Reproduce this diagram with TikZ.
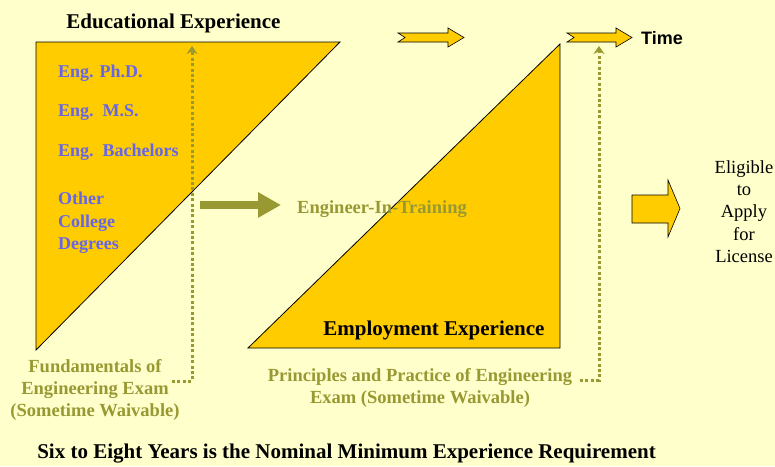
\documentclass[tikz,border=0pt]{standalone}
\usepackage{fontspec}
\setmainfont{Liberation Serif}
\newfontfamily\timefont{Liberation Sans}
\usetikzlibrary{arrows.meta}

\definecolor{paper}{RGB}{255,255,204}
\definecolor{gold}{RGB}{255,204,0}
\definecolor{olive}{RGB}{153,153,51}
\definecolor{degree}{RGB}{102,102,230}

\begin{document}
\begin{tikzpicture}[x=1pt,y=-1pt,
  phase/.style={fill=gold,draw=black,line width=0.8pt,line join=miter},
  goldarrow/.style={fill=gold,draw=black,line width=0.6pt,line join=miter},
  heading/.style={inner sep=0pt,font=\fontsize{21}{25}\selectfont\bfseries},
  degreelabel/.style={inner sep=0pt,anchor=west,align=left,text=degree,
    font=\fontsize{18}{22.5}\selectfont\bfseries},
  examlabel/.style={inner sep=0pt,align=center,text=olive,
    font=\fontsize{18.5}{22}\selectfont\bfseries},
  examline/.style={olive,line width=3pt,dash pattern=on 3pt off 2.4pt,
    -{Stealth[length=8pt,width=11pt]}},
  plain/.style={inner sep=0pt,align=center,font=\fontsize{18.5}{22.3}\selectfont}]

% page background
\fill[paper] (0,0) rectangle (775,466);
\useasboundingbox (0,0) rectangle (775,466);

% education and employment wedges
\draw[phase] (36,42) -- (340,42) -- (36,350) -- cycle;
\draw[phase] (248,348) -- (560,348) -- (560,44) -- cycle;

% time arrows
\draw[goldarrow] (398,33) -- (448,33) -- (448,28) -- (464,37.5) -- (448,47)
  -- (448,42) -- (398,42) -- (405,37.5) -- cycle;
\draw[goldarrow] (567,33) -- (616,33) -- (616,28) -- (632,37.5) -- (616,47)
  -- (616,42) -- (567,42) -- (574,37.5) -- cycle;
\node[inner sep=0pt,anchor=west,font=\timefont\fontsize{18}{20}\selectfont\bfseries]
  (time) at (641,38.5) {Time};

% headings
\node[heading] (edu) at (173.5,23) {Educational Experience};
\node[heading] (emp) at (434,330) {Employment Experience};

% degree levels
\node[degreelabel] (phd) at (58,73) {Eng. Ph.D.};
\node[degreelabel] (ms) at (58,113) {Eng.\ \ M.S.};
\node[degreelabel] (bs) at (58,152) {Eng.\ \ Bachelors};
\node[degreelabel] (other) at (58,223) {Other\\College\\Degrees};

% engineer-in-training step
\node[inner sep=0pt,anchor=west,text=olive,font=\fontsize{18.5}{22}\selectfont\bfseries]
  (eit) at (297,209) {Engineer-In-Training};
\coordinate (eittail) at (200,205);
\draw[olive,line width=8pt,-{Triangle[length=23pt,width=24pt]},shorten >=16pt]
  (eittail) -- (eittail -| eit.west);

% exams
\node[examlabel] (fe) at (95,390) {Fundamentals of\\Engineering Exam\\(Sometime Waivable)};
\node[examlabel] (pe) at (420,388) {Principles and Practice of Engineering\\Exam (Sometime Waivable)};

\coordinate (festart) at (172,381);
\coordinate (fecorner) at (192,381);
\coordinate (fetop) at (192,46);
\draw[examline] (festart) -- (fecorner) -- (fetop);

\coordinate (pestart) at (580,380);
\coordinate (pecorner) at (599,380);
\coordinate (petop) at (599,46);
\draw[examline] (pestart) -- (pecorner) -- (petop);

% licensure
\draw[goldarrow] (632,195) -- (668,195) -- (668,180) -- (680,208.5) -- (668,237)
  -- (668,223) -- (632,223) -- cycle;
\node[plain] (lic) at (744,211.5) {Eligible\\to\\Apply\\for\\License};

% summary line
\node[heading] (summary) at (346.5,454) {Six to Eight Years is the Nominal Minimum Experience Requirement};

\end{tikzpicture}
\end{document}
